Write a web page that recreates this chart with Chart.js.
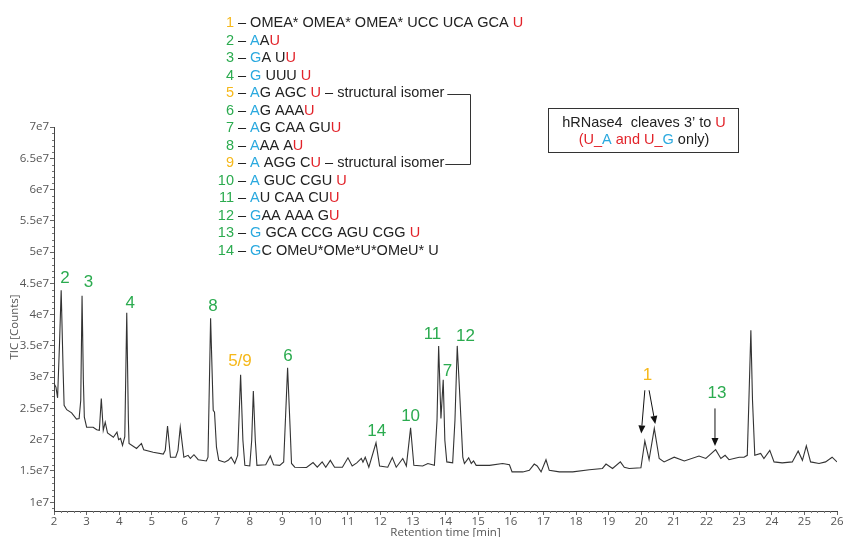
<!DOCTYPE html>
<html><head><meta charset="utf-8">
<script src="https://cdn.jsdelivr.net/npm/chart.js@4.4.0/dist/chart.umd.min.js"></script>
<style>html,body{margin:0;padding:0;background:#fff;}#wrap{width:844px;height:537px;position:relative;}</style>
</head><body><div id="wrap"><canvas id="c" width="844" height="537"></canvas></div>
<script>
// ---- data (TIC in units of 1e7 counts) ----
const retentionTime = [2.00,2.06,2.11,2.17,2.22,2.28,2.31,2.39,2.54,2.69,2.77,2.82,2.86,2.90,2.93,3.00,3.20,3.31,3.39,3.45,3.51,3.57,3.64,3.82,3.93,3.98,4.04,4.10,4.17,4.23,4.28,4.30,4.53,4.68,4.75,5.04,5.35,5.41,5.48,5.57,5.73,5.80,5.87,5.98,6.11,6.18,6.29,6.42,6.67,6.72,6.80,6.88,6.92,6.98,7.05,7.23,7.34,7.43,7.54,7.63,7.72,7.79,7.85,8.00,8.06,8.11,8.17,8.22,8.49,8.63,8.73,8.92,9.04,9.16,9.24,9.28,9.38,9.74,9.94,10.07,10.22,10.33,10.47,10.60,10.84,11.01,11.14,11.28,11.42,11.47,11.54,11.65,11.87,11.98,12.23,12.37,12.49,12.69,12.80,12.93,13.03,13.30,13.46,13.66,13.74,13.79,13.86,13.93,13.98,14.04,14.22,14.29,14.36,14.43,14.53,14.58,14.71,14.79,14.86,14.94,15.35,15.75,15.96,16.04,16.37,16.57,16.72,16.81,16.93,17.08,17.18,17.49,17.90,18.41,18.81,18.92,19.12,19.36,19.48,19.63,19.99,20.11,20.24,20.40,20.55,20.70,21.01,21.32,21.77,21.98,22.28,22.44,22.57,22.69,23.00,23.15,23.25,23.30,23.36,23.41,23.48,23.66,23.76,23.94,24.07,24.32,24.63,24.81,24.94,25.06,25.19,25.45,25.65,25.85,26.00];
const ticCounts = [2.90,2.84,2.67,3.55,4.39,3.10,2.55,2.48,2.43,2.33,2.34,2.63,4.30,2.95,2.36,2.20,2.20,2.16,2.15,2.66,2.15,2.28,2.11,2.04,2.12,2.00,2.02,1.91,2.05,4.03,2.31,1.94,1.86,1.94,1.84,1.80,1.77,1.83,2.22,1.72,1.72,1.83,2.20,1.72,1.75,1.70,1.76,1.68,1.66,1.72,3.94,2.47,2.44,1.88,1.67,1.64,1.67,1.72,1.62,1.75,3.04,1.99,1.59,1.58,1.99,2.78,1.99,1.59,1.60,1.74,1.60,1.59,1.645,3.15,2.15,1.62,1.56,1.555,1.635,1.56,1.645,1.56,1.67,1.56,1.56,1.71,1.58,1.63,1.70,1.64,1.72,1.56,1.95,1.58,1.56,1.715,1.56,1.70,1.58,2.19,1.59,1.58,1.62,1.59,2.31,3.50,2.34,2.96,1.99,1.645,1.63,2.31,3.50,2.79,1.72,1.62,1.71,1.62,1.66,1.59,1.59,1.62,1.60,1.485,1.485,1.51,1.61,1.58,1.485,1.68,1.51,1.485,1.485,1.52,1.54,1.61,1.54,1.645,1.56,1.54,1.55,1.98,1.68,2.18,1.70,1.645,1.72,1.66,1.74,1.70,1.84,1.70,1.75,1.68,1.72,1.72,1.75,2.63,3.75,2.63,1.75,1.78,1.70,1.83,1.645,1.63,1.645,1.82,1.67,1.90,1.645,1.62,1.645,1.72,1.645];
const xTickValues = [2,3,4,5,6,7,8,9,10,11,12,13,14,15,16,17,18,19,20,21,22,23,24,25,26];
const yTickValues = [1,1.5,2,2.5,3,3.5,4,4.5,5,5.5,6,6.5,7];

// peak annotations (anchored in data coordinates)
const peakLabelText  = ['2','3','4','8','5/9','6','14','10','11','7','12','1','13'];
const peakLabelTime  = [2.34,3.06,4.34,6.87,7.70,9.17,11.89,12.93,13.60,14.06,14.61,20.19,22.32];
const peakLabelTic   = [4.58,4.51,4.18,4.13,3.25,3.33,2.14,2.37,3.68,3.10,3.66,3.03,2.74];
const peakLabelKind  = ['G','G','G','G','Y','G','G','G','G','G','G','Y','G'];
const arrowFromTime = [20.11,20.24,22.26];
const arrowFromTic  = [2.79,2.79,2.50];
const arrowToTime   = [20.00,20.43,22.26];
const arrowToTic    = [2.10,2.25,1.90];

const legendLines = [
 [['1','Y'],[' – OMEA* OMEA* OMEA* UCC UCA GCA ','K'],['U','R']],
 [['2','G'],[' – ','K'],['A','B'],['A','K'],['U','R']],
 [['3','G'],[' – ','K'],['G','B'],['A U','K'],['U','R']],
 [['4','G'],[' – ','K'],['G','B'],[' UUU ','K'],['U','R']],
 [['5','Y'],[' – ','K'],['A','B'],['G AGC ','K'],['U','R'],[' – structural isomer','K']],
 [['6','G'],[' – ','K'],['A','B'],['G AAA','K'],['U','R']],
 [['7','G'],[' – ','K'],['A','B'],['G CAA GU','K'],['U','R']],
 [['8','G'],[' – ','K'],['A','B'],['AA A','K'],['U','R']],
 [['9','Y'],[' – ','K'],['A','B'],[' AGG C','K'],['U','R'],[' – structural isomer','K']],
 [['10','G'],[' – ','K'],['A','B'],[' GUC CGU ','K'],['U','R']],
 [['11','G'],[' – ','K'],['A','B'],['U CAA CU','K'],['U','R']],
 [['12','G'],[' – ','K'],['G','B'],['AA AAA G','K'],['U','R']],
 [['13','G'],[' – ','K'],['G','B'],[' GCA CCG AGU CGG ','K'],['U','R']],
 [['14','G'],[' – ','K'],['G','B'],['C OMeU*OMe*U*OMeU* U','K']]
];
const boxLines = [
 [['hRNase4  cleaves 3’ to ','K'],['U','R']],
 [['(U_','R'],['A','B'],[' and U_','R'],['G','B'],[' only)','K']]
];
const COLORS = {G:'#2bab4f', Y:'#f6b81a', B:'#2aa9df', R:'#e2232a', K:'#222222'};

const decorPlugin = {
  id:'decor',
  afterDraw(chart){
    const ctx = chart.ctx, xs = chart.scales.x, ys = chart.scales.y, ca = chart.chartArea;
    ctx.save();
    // minor ticks
    ctx.strokeStyle = '#777'; ctx.lineWidth = 1;
    ctx.beginPath();
    for (let i = 0; i <= 120; i++) {
      if (i % 5 === 0) continue;
      const px = Math.round(xs.getPixelForValue(2 + i * 0.2)) + 0.5;
      ctx.moveTo(px, ca.bottom); ctx.lineTo(px, ca.bottom + 2);
    }
    for (let i = 0; i <= 61; i++) {
      const v = 0.9 + i * 0.1;
      if (Math.abs(v * 2 - Math.round(v * 2)) < 1e-6) continue;
      if (v < ys.min || v > ys.max) continue;
      const py = Math.round(ys.getPixelForValue(v)) + 0.5;
      ctx.moveTo(ca.left - 2, py); ctx.lineTo(ca.left, py);
    }
    ctx.stroke();
    // axis titles
    ctx.fillStyle = '#555';
    ctx.font = '11.5px "Open Sans"';
    ctx.textAlign = 'center'; ctx.textBaseline = 'middle';
    ctx.fillText('Retention time [min]', (ca.left + ca.right) / 2, 533);
    ctx.save();
    ctx.translate(15, 327); ctx.rotate(-Math.PI / 2);
    ctx.fillText('TIC [Counts]', 0, 0);
    ctx.restore();
    // peak labels
    ctx.font = '17px "Liberation Sans", Arial, sans-serif';
    ctx.textAlign = 'center'; ctx.textBaseline = 'middle';
    peakLabelText.forEach((t, i) => {
      ctx.fillStyle = COLORS[peakLabelKind[i]];
      ctx.fillText(t, xs.getPixelForValue(peakLabelTime[i]), ys.getPixelForValue(peakLabelTic[i]));
    });
    // arrows
    ctx.strokeStyle = '#111'; ctx.fillStyle = '#111'; ctx.lineWidth = 1;
    arrowFromTime.forEach((t, i) => {
      const x1 = xs.getPixelForValue(t), y1 = ys.getPixelForValue(arrowFromTic[i]);
      const x2 = xs.getPixelForValue(arrowToTime[i]), y2 = ys.getPixelForValue(arrowToTic[i]);
      const ang = Math.atan2(y2 - y1, x2 - x1), L = 8, W = 3.5;
      const bx = x2 - L * Math.cos(ang), by = y2 - L * Math.sin(ang);
      ctx.beginPath(); ctx.moveTo(x1, y1); ctx.lineTo(bx, by); ctx.stroke();
      ctx.beginPath();
      ctx.moveTo(x2, y2);
      ctx.lineTo(bx + W * Math.sin(ang), by - W * Math.cos(ang));
      ctx.lineTo(bx - W * Math.sin(ang), by + W * Math.cos(ang));
      ctx.closePath(); ctx.fill();
    });
    // legend block
    ctx.font = '14.5px "Liberation Sans", Arial, sans-serif';
    ctx.textAlign = 'left'; ctx.textBaseline = 'middle';
    const ends = [];
    legendLines.forEach((segs, i) => {
      const y = 23.3 + i * 17.5;
      const numW = ctx.measureText(segs[0][0]).width;
      let x = 234 - numW;
      segs.forEach(([txt, c]) => {
        ctx.fillStyle = COLORS[c];
        ctx.fillText(txt, x, y);
        x += ctx.measureText(txt).width;
      });
      ends.push([x, y]);
    });
    // bracket between the structural isomers (lines 5 and 9)
    ctx.strokeStyle = '#333'; ctx.lineWidth = 1;
    ctx.beginPath();
    ctx.moveTo(ends[4][0] + 3, Math.round(ends[4][1] + 1) + 0.5);
    ctx.lineTo(470.5, Math.round(ends[4][1] + 1) + 0.5);
    ctx.lineTo(470.5, Math.round(ends[8][1] + 1) + 0.5);
    ctx.lineTo(ends[8][0] + 1, Math.round(ends[8][1] + 1) + 0.5);
    ctx.stroke();
    // box
    ctx.strokeStyle = '#333';
    ctx.strokeRect(548.5, 108.5, 190, 44);
    ctx.font = '14.5px "Liberation Sans", Arial, sans-serif';
    const boxY = [122.7, 140];
    boxLines.forEach((segs, i) => {
      const total = segs.reduce((s, [t]) => s + ctx.measureText(t).width, 0);
      let x = 644 - total / 2;
      segs.forEach(([txt, c]) => {
        ctx.fillStyle = COLORS[c];
        ctx.fillText(txt, x, boxY[i]);
        x += ctx.measureText(txt).width;
      });
    });
    ctx.restore();
  }
};

new Chart(document.getElementById('c'), {
  type: 'line',
  data: { datasets: [{
    data: retentionTime.map((t, i) => ({ x: t, y: ticCounts[i] })),
    borderColor: '#333333', borderWidth: 1.1, pointRadius: 0, tension: 0, fill: false
  }]},
  options: {
    responsive: false, animation: false,
    layout: { padding: { left: 0, right: 7, top: 127, bottom: 0 } },
    plugins: { legend: { display: false }, tooltip: { enabled: false } },
    scales: {
      x: {
        type: 'linear', min: 2, max: 26,
        afterBuildTicks: ax => { ax.ticks = xTickValues.map(v => ({ value: v })); },
        afterFit: s => { s.height = 26; },
        grid: { drawOnChartArea: false, drawTicks: true, tickLength: 4, color: '#666' },
        border: { color: '#444', width: 1 },
        ticks: { color: '#555', font: { family: 'Open Sans', size: 11.5 }, padding: 0, maxRotation: 0, autoSkip: false }
      },
      y: {
        type: 'linear', min: 0.86, max: 7,
        afterBuildTicks: ax => { ax.ticks = yTickValues.map(v => ({ value: v })); },
        afterFit: s => { s.width = 54; },
        grid: { drawOnChartArea: false, drawTicks: true, tickLength: 4, color: '#666' },
        border: { color: '#444', width: 1 },
        ticks: { color: '#555', font: { family: 'Open Sans', size: 11.5 }, padding: 1, callback: v => v + 'e7' }
      }
    }
  },
  plugins: [decorPlugin]
});
</script></body></html>
